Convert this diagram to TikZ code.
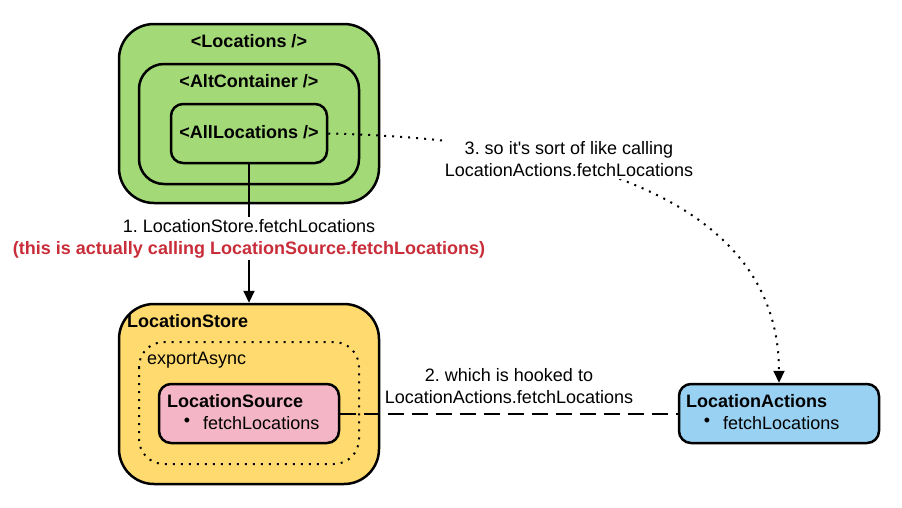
\documentclass[tikz,border=0pt]{standalone}
\usepackage{fontspec}
\setmainfont{Liberation Sans}[Ligatures=TeXOff]
\usetikzlibrary{arrows.meta}
\definecolor{lgreen}{HTML}{A3D977}
\definecolor{lyellow}{HTML}{FFDA6E}
\definecolor{lpink}{HTML}{F4B6C7}
\definecolor{lblue}{HTML}{99D1F2}
\definecolor{lred}{HTML}{C92D39}
\frenchspacing
\tikzset{
  box/.style={draw=black, line width=2.5pt, inner sep=0pt},
  title/.style={font=\fontsize{18}{20}\selectfont\bfseries, inner sep=0pt},
  plain/.style={font=\fontsize{18}{20}\selectfont, inner sep=0pt},
  lbl/.style={font=\fontsize{18}{22}\selectfont, fill=white, align=center, inner sep=2pt},
  tip/.style={-{Triangle[length=12pt,width=11pt]}},
  dotline/.style={line width=2pt, dash pattern=on 2pt off 6pt},
  dashline/.style={line width=2pt, dash pattern=on 16pt off 8pt},
}
\begin{document}
\begin{tikzpicture}[x=1pt,y=-1pt]
\useasboundingbox (0,0) rectangle (902,507);
% top group
\node[box, fill=lgreen, rounded corners=35pt, minimum width=260pt, minimum height=179pt] (locations) at (249,113.5) {};
\node[title] (loctitle) at (249,41) {<Locations />};
\node[box, rounded corners=25pt, minimum width=220pt, minimum height=120pt] (alt) at (249,124) {};
\node[title] (alttitle) at (249,81) {<AltContainer />};
\node[box, rounded corners=12pt, minimum width=156pt, minimum height=59pt] (alllocs) at (249,133.5) {};
\node[title] (alltitle) at (249,132) {<AllLocations />};
% bottom group
\node[box, fill=lyellow, rounded corners=35pt, minimum width=260pt, minimum height=180pt] (lstore) at (249,394) {};
\node[title, anchor=west] (lstoretitle) at (127,321) {LocationStore};
\draw[dotline, rounded corners=25pt] (139,342) rectangle (359,464);
\coordinate (exportcorner) at (139,342);
\node[plain, anchor=west] (exporttitle) at (147,360) {exportAsync};
\node[box, fill=lpink, rounded corners=12pt, minimum width=180pt, minimum height=59pt] (lsource) at (249,413.5) {};
\node[title, anchor=west] (lsourcetitle) at (167,401) {LocationSource};
\node[plain] (lsourcebullet) at (187,422) {•};
\node[plain, anchor=west] (lsourceitem) at (203,423) {fetchLocations};
% actions
\node[box, fill=lblue, rounded corners=12pt, minimum width=200pt, minimum height=59pt] (lactions) at (779,413.5) {};
\node[title, anchor=west] (lactionstitle) at (686,401) {LocationActions};
\node[plain] (lactionsbullet) at (707,422) {•};
\node[plain, anchor=west] (lactionsitem) at (723,423) {fetchLocations};
% connector 1
\draw[line width=2pt, tip] (alllocs.south) -- (lstore.north)
  node[lbl, pos=0.539] (lbl1) {1. LocationStore.fetchLocations\\
  \textcolor{lred}{\bfseries (this is actually calling LocationSource.fetchLocations)}};
% connector 2
\draw[dashline] (lsource.east) -- (lactions.west);
\node[lbl, fill=none] (lbl2) at (509,386) {2. which is hooked to\\LocationActions.fetchLocations};
% connector 3
\draw[dotline, tip] (alllocs.east) .. controls (620,140) and (779,220) .. (lactions.north);
\node[lbl] (lbl3) at (569,159) {3. so it's sort of like calling\\LocationActions.fetchLocations};
\end{tikzpicture}
\end{document}
